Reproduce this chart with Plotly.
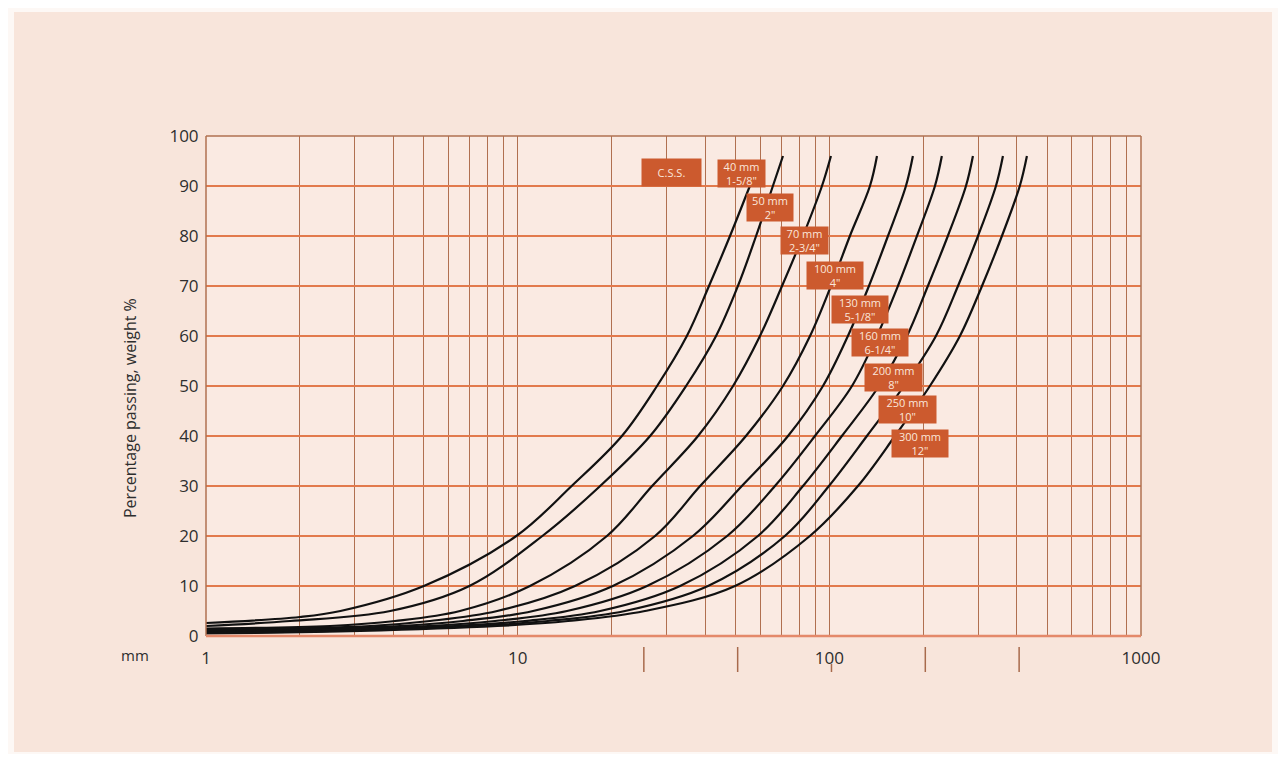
import plotly.graph_objects as go

# ---------------- data ----------------
css_label = "C.S.S."
size_mm = ["40 mm", "50 mm", "70 mm", "100 mm", "130 mm", "160 mm", "200 mm", "250 mm", "300 mm"]
size_in = ['1-5/8"', '2"', '2-3/4"', '4"', '5-1/8"', '6-1/4"', '8"', '10"', '12"']

# particle size (mm) / percentage passing for each curve
c40_x = [1, 2, 2.7, 5.0, 9.9, 14.9, 21.6, 28.0, 34.9, 41.1, 48.0, 55.6, 59.9]
c40_y = [2.6, 3.8, 5, 10, 20, 30, 40, 50, 60, 70, 80, 90, 95]
c50_x = [1, 1.86, 3.9, 7.0, 12.0, 18.4, 26.6, 34.7, 43.3, 50.9, 58.2, 65.9, 71.0]
c50_y = [2.0, 3, 5, 10, 20, 30, 40, 50, 60, 70, 80, 90, 96]
c70_x = [1, 2.5, 4.04, 6.53, 10.95, 19.34, 27.0, 37.9, 49.1, 59.9, 70.5, 82.3, 94.7, 101.2]
c70_y = [1.5, 2, 3, 5, 10, 20, 30, 40, 50, 60, 70, 80, 90, 96]
c100_x = [1, 3.36, 5.23, 8.6, 15.27, 27.6, 38.5, 54.0, 71.0, 86.7, 101.2, 116.4, 135.0, 142.2]
c100_y = [1.2, 2, 3, 5, 10, 20, 30, 40, 50, 60, 70, 80, 90, 96]
c130_x = [1, 4.19, 6.68, 11.2, 20.2, 36.5, 52.4, 73.7, 95.4, 114.7, 134.0, 154.2, 176.1, 185.4]
c130_y = [1.0, 2, 3, 5, 10, 20, 30, 40, 50, 60, 70, 80, 90, 96]
c160_x = [1, 5.16, 8.46, 14.4, 26.0, 47.0, 66.9, 89.9, 118.2, 142.2, 166.0, 191.0, 218.2, 229.6]
c160_y = [0.85, 2, 3, 5, 10, 20, 30, 40, 50, 60, 70, 80, 90, 96]
c200_x = [1, 6.28, 10.55, 18.4, 33.2, 59.0, 82.3, 109.7, 144.3, 177.5, 207.1, 240.0, 274.4, 288.9]
c200_y = [0.7, 2, 3, 5, 10, 20, 30, 40, 50, 60, 70, 80, 90, 96]
c250_x = [1, 2.5, 7.3, 12.5, 22.1, 40.8, 72.0, 99.7, 132.0, 173.5, 219.8, 258.7, 299.9, 342.4, 360.6]
c250_y = [0.6, 1, 2, 3, 5, 10, 20, 30, 40, 50, 60, 70, 80, 90, 96]
c300_x = [1, 3.12, 8.6, 14.5, 25.6, 49.8, 86.6, 123.5, 162.4, 210.2, 262.4, 308.9, 357.9, 408.4, 430.5]
c300_y = [0.5, 1, 2, 3, 5, 10, 20, 30, 40, 50, 60, 70, 80, 90, 96]

curves_x = [c40_x, c50_x, c70_x, c100_x, c130_x, c160_x, c200_x, c250_x, c300_x]
curves_y = [c40_y, c50_y, c70_y, c100_y, c130_y, c160_y, c200_y, c250_y, c300_y]

y_ticks = [0, 10, 20, 30, 40, 50, 60, 70, 80, 90, 100]
x_grid = [1, 2, 3, 4, 5, 6, 7, 8, 9, 10, 20, 30, 40, 50, 60, 70, 80, 90,
          100, 200, 300, 400, 500, 600, 700, 800, 900, 1000]
x_labels = {1: "1", 10: "10", 100: "100", 1000: "1000"}
inch_marks_mm = [25.4, 50.8, 101.6, 203.2, 406.4]  # 1", 2", 4", 8", 16"

# ---------------- styling ----------------
FONT = "Open Sans"
BOX = "#CC5A2E"
BOX_TXT = "#FBE6DB"
HGRID = "#E27A4C"
VGRID = "#B07050"
TXT = "#2E2E2E"

fig = go.Figure()
for xs, ys, name in zip(curves_x, curves_y, size_mm):
    fig.add_trace(go.Scatter(x=xs, y=ys, mode="lines", name=name,
                             line=dict(color="#111111", width=2.2, shape="spline", smoothing=1.0),
                             showlegend=False, hoverinfo="skip"))

# page geometry: the browser page has an 8px body margin
OFF = 8
FIG_W, FIG_H = 1286 - 2 * OFF, 762 - 2 * OFF
# plot-area edges in page pixels
L, R, T, B = 206, 1141, 136, 636
W, H = R - L, B - T
def px(xp):
    return (xp - L) / W
def py(yp):
    return (B - yp) / H

shapes = []
shapes.append(dict(type="rect", xref="paper", yref="paper", x0=px(14), x1=px(1272),
                   y0=py(752), y1=py(12), fillcolor="#F8E5DB", line=dict(width=0), layer="below"))
shapes.append(dict(type="rect", xref="paper", yref="paper", x0=0, x1=1, y0=0, y1=1,
                   fillcolor="#FAEAE2", line=dict(width=0), layer="below"))
shapes.append(dict(type="line", xref="paper", yref="paper", x0=0, x1=1, y0=1, y1=1,
                   line=dict(color=VGRID, width=1.5)))
shapes.append(dict(type="line", xref="paper", yref="paper", x0=0, x1=0, y0=0, y1=1,
                   line=dict(color=VGRID, width=1.5)))
shapes.append(dict(type="line", xref="paper", yref="paper", x0=1, x1=1, y0=0, y1=1,
                   line=dict(color=VGRID, width=1.5)))
shapes.append(dict(type="line", xref="paper", yref="paper", x0=0, x1=1, y0=0, y1=0,
                   line=dict(color="#E4896A", width=2.5)))
for v in inch_marks_mm:
    top = py(664) if v == 101.6 else py(647)
    shapes.append(dict(type="line", xref="x", yref="paper", x0=v, x1=v, y0=top, y1=py(672),
                       line=dict(color="#A86A4C", width=1.5)))

annotations = []
annotations.append(dict(xref="paper", yref="paper", x=px(671.5), y=py(172.5), text=css_label,
                        xanchor="center", yanchor="middle",
                        showarrow=False, bgcolor=BOX, width=57, height=25,
                        font=dict(family=FONT, size=11, color=BOX_TXT)))
label_centers = [(741.5, 173.5), (770, 207.5), (804.5, 240.5), (835, 275.5), (860, 309),
                 (880, 342.5), (893.5, 377), (907.5, 409.5), (920, 443)]
label_widths = [47, 46, 47, 56, 56, 56, 57, 57, 56]
for (cx, cy), wd, mm, inch in zip(label_centers, label_widths, size_mm, size_in):
    annotations.append(dict(xref="paper", yref="paper", x=px(cx), y=py(cy),
                            xanchor="center", yanchor="middle",
                            text=f"{mm}<br>{inch}", showarrow=False, bgcolor=BOX,
                            width=wd, height=27, borderpad=0,
                            font=dict(family=FONT, size=11, color=BOX_TXT)))
annotations.append(dict(xref="paper", yref="paper", x=px(135), y=py(655), text="mm",
                        xanchor="center", yanchor="middle",
                        showarrow=False, font=dict(family=FONT, size=15, color=TXT)))
annotations.append(dict(xref="paper", yref="paper", x=px(130), y=py(408),
                        xanchor="center", yanchor="middle",
                        text="Percentage passing, weight %", textangle=-90, showarrow=False,
                        font=dict(family=FONT, size=16, color=TXT)))

fig.update_layout(
    width=FIG_W, height=FIG_H,
    margin=dict(l=L - OFF, r=(FIG_W + OFF) - R, t=T - OFF, b=(FIG_H + OFF) - B),
    paper_bgcolor="#FDF8F5",
    plot_bgcolor="rgba(0,0,0,0)",
    shapes=shapes,
    annotations=annotations,
    showlegend=False,
    xaxis=dict(type="log", range=[0, 3], tickmode="array", tickvals=x_grid,
               ticktext=[x_labels.get(v, "") for v in x_grid],
               showgrid=True, gridcolor=VGRID, gridwidth=1.3,
               ticks="outside", ticklen=7, tickcolor="rgba(0,0,0,0)",
               tickfont=dict(family=FONT, size=17, color=TXT),
               showline=False, zeroline=False),
    yaxis=dict(range=[0, 100], tickmode="array", tickvals=y_ticks,
               showgrid=True, gridcolor=HGRID, gridwidth=1.5,
               ticks="outside", ticklen=3, tickcolor="rgba(0,0,0,0)",
               tickfont=dict(family=FONT, size=17, color=TXT),
               showline=False, zeroline=False),
)

fig.write_html("out.html")
